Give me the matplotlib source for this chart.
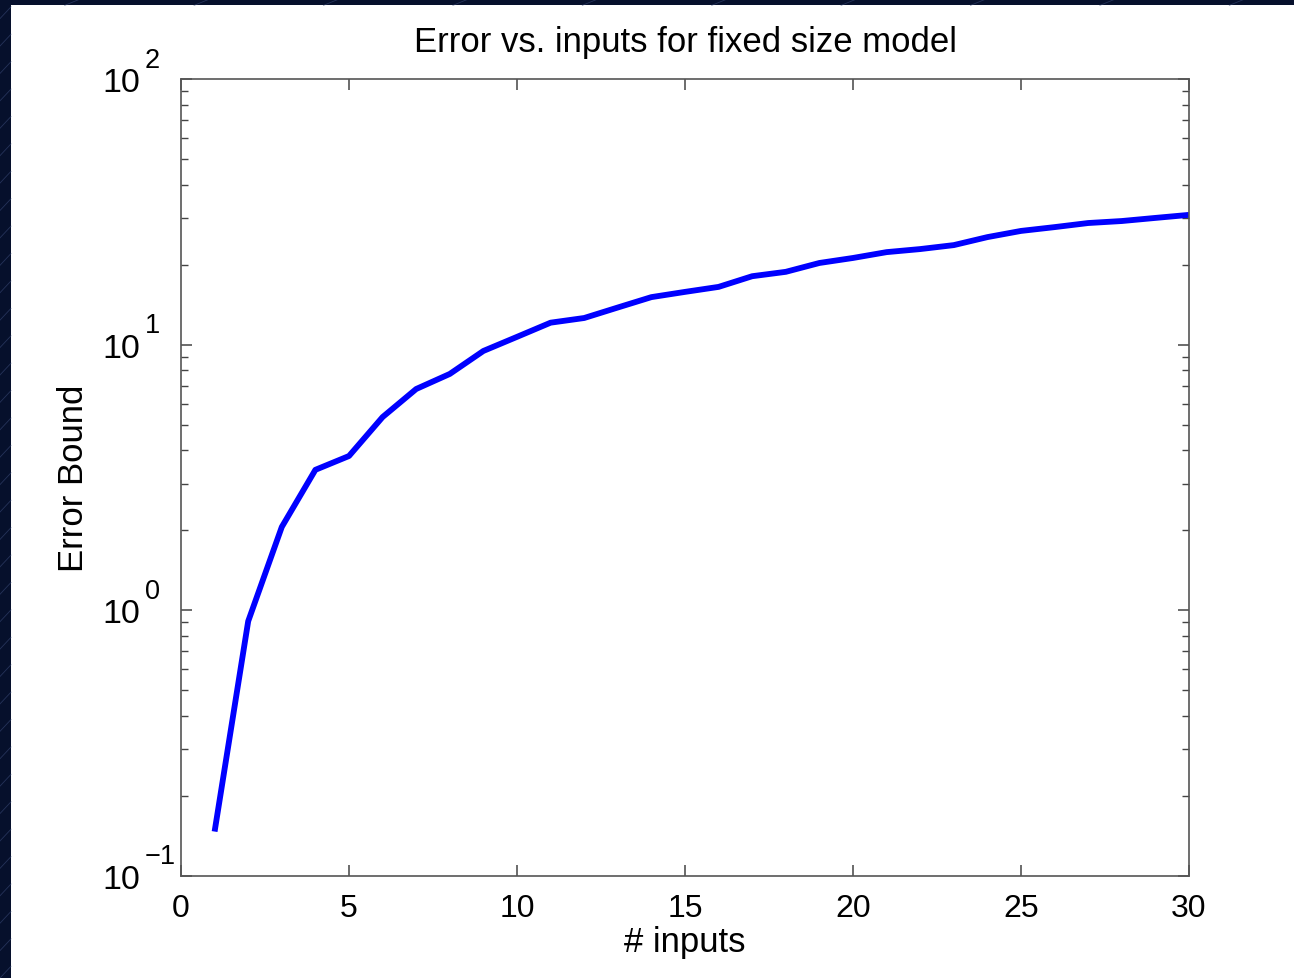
import matplotlib
matplotlib.use("Agg")
import matplotlib.pyplot as plt
from matplotlib.patches import Rectangle
from matplotlib.lines import Line2D

# Data
n_inputs = list(range(1, 31))
error_bound = [0.147, 0.91, 2.06, 3.38, 3.81, 5.34, 6.81, 7.76, 9.47, 10.7,
               12.1, 12.6, 13.8, 15.1, 15.8, 16.5, 18.1, 18.8, 20.3, 21.2,
               22.3, 22.9, 23.7, 25.4, 26.8, 27.7, 28.7, 29.2, 30.0, 30.8]
x_ticks = [0, 5, 10, 15, 20, 25, 30]
y_ticks = [0.1, 1, 10, 100]
y_exponents = ["\u22121", "0", "1", "2"]
title = "Error vs. inputs for fixed size model"
xlabel = "# inputs"
ylabel = "Error Bound"

plt.rcParams['font.family'] = ['Liberation Sans', 'DejaVu Sans']

W, H = 1294, 979
fig = plt.figure(figsize=(W / 100, H / 100), dpi=100)
fig.patch.set_facecolor('#06102c')

# faint diagonal lines in the dark frame
for k in range(0, 40):
    y0 = k * 0.028
    fig.add_artist(Line2D([0.0, 0.0085], [y0, y0 + 0.012], transform=fig.transFigure,
                          color='#3a4a78', lw=0.6, alpha=0.6))
for k in range(0, 16):
    x0 = 0.05 + k * 0.1
    fig.add_artist(Line2D([x0, x0 + 0.012], [0.9935, 1.0], transform=fig.transFigure,
                          color='#3a4a78', lw=0.6, alpha=0.6))

# white slide area
fig.add_artist(Rectangle((11 / W, 0), 1 - 11 / W, 1 - 6 / H, transform=fig.transFigure,
                         facecolor='white', edgecolor='none', zorder=0))

ax = fig.add_axes([181 / W, 1 - 877 / H, (1189 - 181) / W, (877 - 80) / H])
ax.set_facecolor('white')
ax.plot(n_inputs, error_bound, color='#0000ff', lw=4.2, solid_joinstyle='round',
        solid_capstyle='butt')

ax.set_yscale('log')
ax.set_ylim(0.1, 100)
ax.set_xlim(0, 30)
ax.set_xticks(x_ticks)
ax.set_xticklabels([str(t) for t in x_ticks])
ax.set_yticks(y_ticks)
ax.set_yticklabels([""] * len(y_ticks))

for s in ax.spines.values():
    s.set_color('#555555')
    s.set_linewidth(1.2)

ax.tick_params(axis='both', which='both', direction='in', top=True, right=True,
               colors='#444444', labelcolor='black')
ax.tick_params(axis='both', which='major', length=8, width=1.1, labelsize=23)
ax.tick_params(axis='y', which='minor', length=5, width=1.0)
ax.tick_params(axis='x', which='major', pad=12)
ax.yaxis.set_minor_locator(matplotlib.ticker.LogLocator(base=10, subs=range(2, 10)))
ax.yaxis.set_minor_formatter(matplotlib.ticker.NullFormatter())
ax.xaxis.set_minor_locator(matplotlib.ticker.NullLocator())

# MATLAB-style "10" with raised exponent
for val, ex in zip(y_ticks, y_exponents):
    ax.annotate("10", xy=(0, val), xycoords=('axes fraction', 'data'),
                xytext=(-29.5, -8.6), textcoords='offset points',
                ha='right', va='baseline', fontsize=24.5, color='black')
    ax.annotate(ex, xy=(0, val), xycoords=('axes fraction', 'data'),
                xytext=(-26.0, 9.0), textcoords='offset points',
                ha='left', va='baseline', fontsize=19.5, color='black')

ax.set_title(title, fontsize=25, pad=20)
ax.set_xlabel(xlabel, fontsize=25, labelpad=2)
ax.set_ylabel(ylabel, fontsize=25, labelpad=62)

fig.savefig('out.png', dpi=100, facecolor=fig.get_facecolor())
